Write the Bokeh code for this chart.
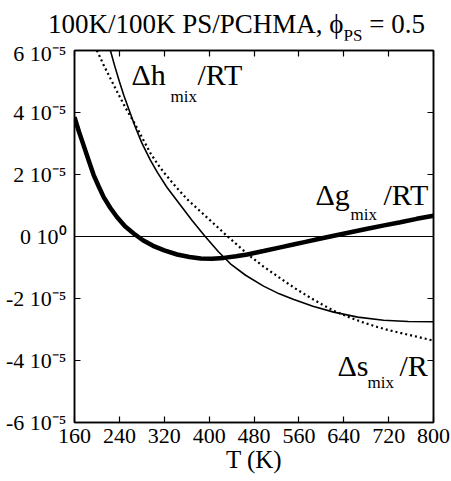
from bokeh.plotting import figure
from bokeh.models import Range1d, LinearAxis, Span, Label, FixedTicker, Div
from bokeh.layouts import column
from bokeh.embed import file_html
from bokeh.resources import INLINE

# ---- data (y values in units of 1e-5) ----
T_g = [160, 168, 177, 185, 194, 203, 212, 224, 236, 250, 266, 282, 300, 320, 343, 365, 385, 405,
       426, 448, 468, 497, 527, 550, 570, 595, 616, 650, 682, 712, 741, 770, 800]
dg_RT = [3.85, 3.38, 2.9, 2.47, 1.99, 1.62, 1.27, 0.92, 0.62, 0.33, 0.09, -0.12, -0.30, -0.45, -0.58,
         -0.66, -0.71, -0.715, -0.69, -0.64, -0.58, -0.47, -0.35, -0.26, -0.18, -0.08, 0.0, 0.13,
         0.25, 0.36, 0.46, 0.57, 0.67]

T_h = [224, 232, 240, 248, 257, 268, 280, 295, 308, 325, 349, 370, 393, 417, 438, 465, 497, 525,
       551, 585, 622, 665, 711, 755, 800]
dh_RT = [6.0, 5.48, 5.0, 4.55, 4.1, 3.55, 3.02, 2.47, 2.06, 1.58, 1.01, 0.51, 0.0, -0.5, -0.88, -1.25,
         -1.6, -1.85, -2.03, -2.25, -2.44, -2.6, -2.70, -2.74, -2.75]

T_s = [200, 212, 225, 238, 251, 268, 282, 295, 308, 320, 340, 361, 385, 408, 430, 450, 468, 497,
       527, 553, 580, 603, 625, 652, 676, 700, 720, 741, 770, 800]
ds_R = [6.0, 5.53, 5.06, 4.6, 4.15, 3.62, 3.14, 2.7, 2.34, 2.05, 1.62, 1.2, 0.8, 0.42, 0.05, -0.27,
        -0.56, -0.97, -1.35, -1.67, -1.97, -2.21, -2.42, -2.62, -2.78, -2.92, -3.02, -3.11, -3.23,
        -3.36]

x_ticks = [160, 240, 320, 400, 480, 560, 640, 720, 800]
y_ticks = [-6, -4, -2, 0, 2, 4, 6]
y_tick_labels = ["-6 10\u207b\u2075", "-4 10\u207b\u2075", "-2 10\u207b\u2075", "0 10\u2070",
                 "2 10\u207b\u2075", "4 10\u207b\u2075", "6 10\u207b\u2075"]

FONT = "Liberation Serif"

p = figure(width=451, height=441, x_range=Range1d(160, 800), y_range=Range1d(-6, 6),
           output_backend="svg", toolbar_location=None, margin=0,
           min_border_left=74, min_border_right=18, min_border_top=10, min_border_bottom=59)
p.title.text = ""
p.grid.visible = False
p.background_fill_color = "white"
p.border_fill_color = "white"
p.outline_line_color = "black"
p.outline_line_width = 1.5

top = LinearAxis(ticker=FixedTicker(ticks=x_ticks))
p.add_layout(top, "above")
right = LinearAxis(ticker=FixedTicker(ticks=y_ticks))
p.add_layout(right, "right")

for ax in p.axis:
    ax.axis_line_width = 1.5
    ax.axis_line_color = "black"
    ax.major_tick_in = 6
    ax.major_tick_out = 0
    ax.major_tick_line_width = 1.2
    ax.minor_tick_line_color = None
    ax.major_label_text_font = FONT
    ax.major_label_text_font_style = "normal"
    ax.major_label_text_color = "black"

for ax in (top, right):
    ax.major_label_text_font_size = "1px"
    ax.major_label_text_alpha = 0
    ax.major_label_standoff = 0

xa = p.below[0]
xa.ticker = FixedTicker(ticks=x_ticks)
xa.major_label_text_font_size = "22px"
xa.major_label_standoff = 6
xa.axis_label = "T (K)"
xa.axis_label_text_font = FONT
xa.axis_label_text_font_size = "25px"
xa.axis_label_text_font_style = "normal"
xa.axis_label_text_color = "black"
xa.axis_label_standoff = 0

ya = p.left[0]
ya.ticker = FixedTicker(ticks=y_ticks)
ya.major_label_overrides = {t: lab for t, lab in zip(y_ticks, y_tick_labels)}
ya.major_label_text_font_size = "22px"
ya.major_label_standoff = 8

p.add_layout(Span(location=0, dimension="width", line_color="black", line_width=1))

p.line(T_h, dh_RT, line_color="black", line_width=1.6)
p.line(T_s, ds_R, line_color="black", line_width=2.2, line_dash="2 3")
p.line(T_g, dg_RT, line_color="black", line_width=4.5)

# helpers converting reference pixel positions (of the 481-high page) to data coords (labels only)
def px2T(x):
    return 160 + (x - 74) * 640 / 359

def px2v(y):
    return (236 - y) * 12 / 372

def lab(text, x, y, size):
    p.add_layout(Label(x=px2T(x), y=px2v(y), text=text, text_font=FONT,
                       text_font_size=size, text_color="black",
                       text_baseline="alphabetic", text_align="left"))

BIG = "30px"
SUB = "17px"
lab("\u0394h", 131, 74, BIG)
lab("mix", 170, 96, SUB)
lab("/RT", 197, 74, BIG)

lab("\u0394g", 315, 194, BIG)
lab("mix", 350, 214, SUB)
lab("/RT", 383, 194, BIG)

lab("\u0394s", 337, 365, BIG)
lab("mix", 367, 382, SUB)
lab("/R", 399, 365, BIG)

title = Div(
    text=('<div style="font-family: \'Liberation Serif\', serif; font-size: 27px; color: black; '
          'line-height: 26px; padding: 11px 0 0 48px; white-space: nowrap;">'
          '100K/100K PS/PCHMA, \u03d5<sub style="font-size: 17px; line-height: 0; '
          'vertical-align: -0.45em;">PS</sub> = 0.5</div>'),
    width=451, height=40, margin=0)

layout = column(title, p, spacing=0, margin=0)

open("out.html", "w").write(file_html(layout, INLINE))
